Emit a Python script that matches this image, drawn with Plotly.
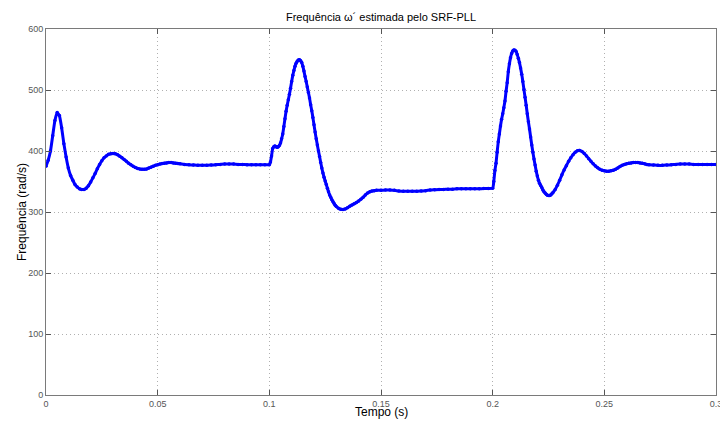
import plotly.graph_objects as go

# Time (s) and estimated frequency (rad/s)
tempo = [
    0.000, 0.001, 0.002, 0.003, 0.004, 0.005, 0.006, 0.007, 0.008, 0.009,
    0.010, 0.011, 0.012, 0.013, 0.014, 0.015, 0.016, 0.017, 0.018, 0.019,
    0.020, 0.021, 0.022, 0.023, 0.024, 0.025, 0.026, 0.027, 0.028, 0.029,
    0.030, 0.031, 0.032, 0.033, 0.034, 0.035, 0.036, 0.037, 0.038, 0.039,
    0.040, 0.041, 0.042, 0.043, 0.044, 0.045, 0.046, 0.047, 0.048, 0.049,
    0.050, 0.051, 0.052, 0.053, 0.054, 0.055, 0.056, 0.057, 0.058, 0.059,
    0.060, 0.062, 0.064, 0.066, 0.068, 0.070, 0.072, 0.074, 0.076, 0.078,
    0.080, 0.082, 0.084, 0.086, 0.088, 0.090, 0.092, 0.094, 0.096, 0.098,
    0.100, 0.1005, 0.101, 0.1015, 0.102, 0.1025, 0.103, 0.1035, 0.104, 0.1045,
    0.105, 0.1055, 0.106, 0.1065, 0.107, 0.1075, 0.108, 0.1085, 0.109, 0.1095,
    0.110, 0.1105, 0.111, 0.1115, 0.112, 0.1125, 0.113, 0.1135, 0.114, 0.1145,
    0.115, 0.1155, 0.116, 0.1165, 0.117, 0.1175, 0.118, 0.1185, 0.119, 0.1195,
    0.120, 0.1205, 0.121, 0.1215, 0.122, 0.1225, 0.123, 0.1235, 0.124, 0.1245,
    0.125, 0.1255, 0.126, 0.1265, 0.127, 0.1275, 0.128, 0.1285, 0.129, 0.1295,
    0.130, 0.131, 0.132, 0.133, 0.134, 0.135, 0.136, 0.137, 0.138, 0.139,
    0.140, 0.141, 0.142, 0.143, 0.144, 0.145, 0.146, 0.147, 0.148, 0.150,
    0.152, 0.154, 0.156, 0.158, 0.160, 0.162, 0.164, 0.166, 0.168, 0.170,
    0.172, 0.174, 0.176, 0.178, 0.180, 0.182, 0.184, 0.186, 0.188, 0.190,
    0.192, 0.194, 0.196, 0.198, 0.200, 0.2005, 0.201, 0.2015, 0.202, 0.2025,
    0.203, 0.2035, 0.204, 0.2045, 0.205, 0.2055, 0.206, 0.2065, 0.207, 0.2075,
    0.208, 0.2085, 0.209, 0.2095, 0.210, 0.2105, 0.211, 0.2115, 0.212, 0.2125,
    0.213, 0.2135, 0.214, 0.2145, 0.215, 0.2155, 0.216, 0.2165, 0.217, 0.2175,
    0.218, 0.2185, 0.219, 0.2195, 0.220, 0.2205, 0.221, 0.2215, 0.222, 0.2225,
    0.223, 0.2235, 0.224, 0.2245, 0.225, 0.2255, 0.226, 0.2265, 0.227, 0.228,
    0.229, 0.230, 0.231, 0.232, 0.233, 0.234, 0.235, 0.236, 0.237, 0.238,
    0.239, 0.240, 0.241, 0.242, 0.243, 0.244, 0.245, 0.246, 0.247, 0.248,
    0.249, 0.250, 0.251, 0.252, 0.253, 0.254, 0.255, 0.256, 0.257, 0.258,
    0.259, 0.260, 0.261, 0.262, 0.263, 0.264, 0.265, 0.266, 0.267, 0.268,
    0.269, 0.270, 0.272, 0.274, 0.276, 0.278, 0.280, 0.282, 0.284, 0.286,
    0.288, 0.290, 0.292, 0.294, 0.296, 0.298, 0.300,
]

frequencia = [
    375, 385, 400, 425, 450, 463, 458, 438, 412, 390,
    372, 360, 352, 345, 341, 338, 337, 337, 339, 343,
    349, 356, 363, 371, 378, 384, 389, 392, 394.5, 395.5,
    396, 395.5, 394, 391.5, 389, 386, 383, 380, 377.5, 375,
    373, 371.5, 370.5, 370, 370, 370.5, 372, 373.5, 375, 376.5,
    377.5, 378.5, 379.5, 380, 380.5, 381, 381, 380.5, 380, 379.5,
    379, 378, 377.5, 377, 376.5, 376.5, 376.5, 377, 377.5, 378,
    378.5, 378.5, 378.5, 378, 378, 377.5, 377.5, 377.5, 377.5, 377.5,
    377.5, 382, 392, 404, 407, 408, 407, 406, 407, 409,
    413, 420, 428, 440, 453, 465, 475, 484, 493, 503,
    514, 524, 532, 539, 544, 547, 549, 549.5, 548, 545,
    539, 531, 522, 514, 505, 496, 487, 476, 466, 455,
    443, 431, 420, 410, 400, 391, 381, 372, 364, 357,
    351, 345, 339, 333, 328, 324, 320, 317, 314, 311,
    309, 306, 304.5, 304, 305, 307, 309.5, 311.5, 313.5, 315.5,
    318, 321, 324, 328, 331, 333, 334.5, 335, 335.5, 335.5,
    336, 336, 335.5, 334.5, 334, 334, 334, 334, 334.5, 335,
    336, 336.5, 337, 337, 337.5, 337.5, 338, 338, 338, 338,
    338, 338, 338.5, 338.5, 339, 350, 368, 380, 398, 415,
    428, 441, 452, 461, 471, 482, 498, 512, 530, 543,
    553, 560, 564, 565.5, 565, 563, 558, 552, 545, 536,
    526, 514, 501, 488, 475, 461, 448, 436, 423, 410,
    398, 387, 377, 367, 359, 352, 347, 343.5, 340, 336,
    333, 331, 329, 327.5, 327, 327, 328, 330, 332, 337,
    344, 352, 361, 369, 376, 383, 389, 394, 398, 400.5,
    401, 399, 396, 392, 387.5, 383, 379, 375.5, 372.5, 370,
    368.5, 367.5, 367, 367, 367.5, 368.5, 370, 372, 374.5, 376.5,
    378, 379, 380, 380.5, 381, 381, 381, 380.5, 380, 379,
    378, 377.5, 377, 376.5, 376.5, 377, 377.5, 378, 378.5, 378.5,
    378.5, 378, 378, 378, 378, 378, 378,
]

x_ticks = [0, 0.05, 0.1, 0.15, 0.2, 0.25, 0.3]
x_tick_labels = ["0", "0.05", "0.1", "0.15", "0.2", "0.25", "0.3"]
y_ticks = [0, 100, 200, 300, 400, 500, 600]

fig = go.Figure()
fig.add_trace(go.Scatter(
    x=tempo, y=frequencia, mode="lines+markers",
    line=dict(color="#0000ff", width=3, shape="spline", smoothing=0.5),
    marker=dict(color="#0000ff", size=3.5, symbol="circle"),
    showlegend=False, hoverinfo="skip",
))

axis_common = dict(
    showline=True, linecolor="#7a7a7a", linewidth=1, mirror="ticks",
    ticks="inside", ticklen=5, tickcolor="#555555",
    showgrid=True, gridcolor="#b0b0b0", griddash="1px,3px", gridwidth=1,
    zeroline=False, automargin=False, ticklabeloverflow="allow",
    tickfont=dict(family="Liberation Sans Narrow, Liberation Sans, Arial", size=9, color="#555555"),
)

fig.update_layout(
    width=720, height=421,
    margin=dict(l=46, r=4, t=29, b=26),
    paper_bgcolor="white", plot_bgcolor="white",
    font=dict(family="Liberation Sans, Arial, sans-serif", color="#000000"),
    title=dict(text="Frequência ω´ estimada pelo SRF-PLL",
               x=381 / 720, xanchor="center",
               y=1 - 17 / 421, yanchor="middle",
               font=dict(size=11, color="#000000")),
    xaxis=dict(range=[0, 0.3], tickvals=x_ticks, ticktext=x_tick_labels, **axis_common),
    yaxis=dict(range=[0, 600], tickvals=y_ticks, **axis_common),
    annotations=[
        dict(text="Tempo (s)", xref="paper", yref="paper", x=0.5, y=0,
             yshift=-17, xanchor="center", yanchor="middle", showarrow=False,
             font=dict(size=12, color="#000000")),
        dict(text="Frequência (rad/s)", xref="paper", yref="paper", x=0, y=0.5,
             xshift=-24, xanchor="center", yanchor="middle", textangle=-90,
             showarrow=False, font=dict(size=12, color="#000000")),
    ],
)

fig.write_html("out.html", config={"displayModeBar": False},
               post_script="document.body.style.margin='0';document.body.style.overflow='hidden';")
